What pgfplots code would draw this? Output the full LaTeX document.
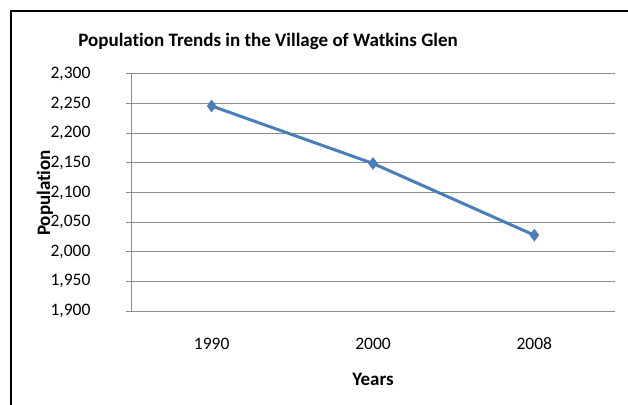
\documentclass[border=0pt]{standalone}
\usepackage{pgfplots}
\pgfplotsset{compat=1.18}
\usepackage{fontspec}
\setmainfont{Carlito}[Ligatures=NoCommon]
\definecolor{serieblue}{HTML}{4A7EBB}
\definecolor{gridgray}{HTML}{8C8C8C}
\begin{document}
\begin{tikzpicture}
\begin{axis}[
  at={(0pt,0pt)}, anchor=south west,
  scale only axis, width=484pt, height=237pt,
  xmin=-0.5, xmax=2.5, ymin=1900, ymax=2300,
  xtick={0,1,2}, xticklabels={1990,2000,2008},
  ytick={1900,1950,...,2300},
  axis lines*=left,
  axis line style={gridgray, line width=1pt},
  ymajorgrids,
  grid style={gridgray, line width=1pt},
  x tick style={draw=none},
  y tick style={gridgray, line width=1pt},
  tick align=outside,
  major tick length=5pt,
  tick label style={font=\fontsize{17.5}{20}\selectfont},
  /pgf/number format/assume math mode=true,
  /pgf/number format/1000 sep={,},
  yticklabel style={anchor=east, xshift=-32pt},
  xticklabel style={anchor=base, yshift=-33pt},
  xlabel={Years},
  label style={font=\fontsize{19}{22}\selectfont\bfseries},
  xlabel style={at={(axis description cs:0.5,0)}, anchor=base, yshift=-74pt},
  clip=false,
]
\addplot[serieblue, line width=3pt, mark=diamond*, mark size=6pt,
  mark options={fill=serieblue, draw=serieblue, line width=0.5pt}]
  coordinates {(0,2246) (1,2149) (2,2028)};
\end{axis}
% vertical axis title
\node[rotate=90, anchor=center, font=\fontsize{19}{22}\selectfont\bfseries]
  at (-86pt,118pt) {Population};
% chart frame, running past the right and bottom edges
\draw[line width=2pt] (-120pt,-110pt) -- (-120pt,300pt) -- (520pt,300pt);
% title
\node[anchor=base, font=\fontsize{19}{23}\selectfont\bfseries] at (137pt,264pt)
  {Population Trends in the Village of Watkins Glen};
\pgfresetboundingbox
\path[use as bounding box] (-131pt,-93pt) rectangle (497pt,311pt);
\end{tikzpicture}
\end{document}
